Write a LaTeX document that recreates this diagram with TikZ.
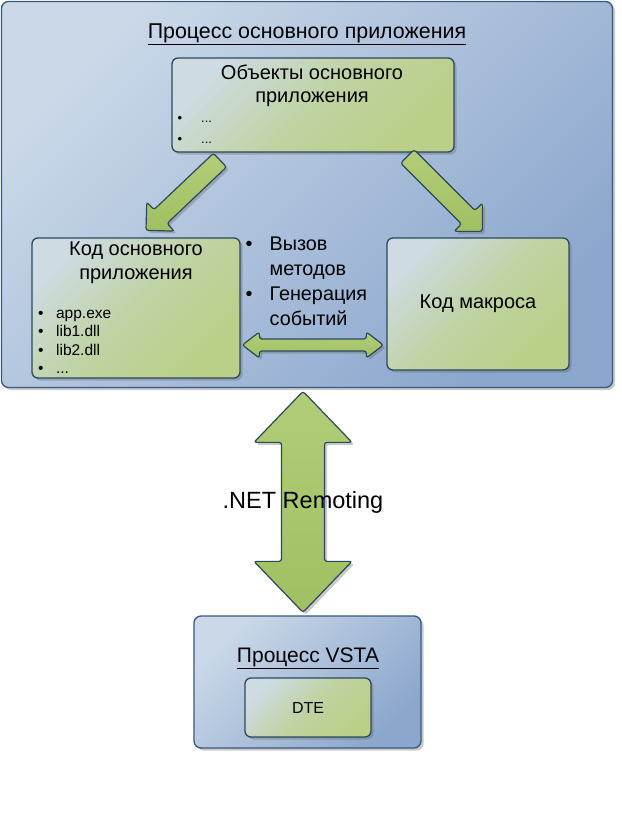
\documentclass[tikz,border=0pt]{standalone}
\usepackage{fontspec}
\setmainfont{Liberation Sans}
\usetikzlibrary{shadows,calc}
\definecolor{blueA}{RGB}{202,216,232}
\definecolor{blueB}{RGB}{140,167,205}
\definecolor{blueLine}{RGB}{58,88,128}
\definecolor{greenA}{RGB}{206,219,226}
\definecolor{greenB}{RGB}{186,207,136}
\definecolor{greenLine}{RGB}{44,72,92}
\definecolor{arrA}{RGB}{178,205,120}
\definecolor{arrB}{RGB}{160,192,98}
\tikzset{
  shad/.style={drop shadow={shadow xshift=2.5pt,shadow yshift=-2.5pt,opacity=0.35,fill=black!60}},
  procbox/.style={draw=blueLine, line width=1.3pt, rounded corners=7pt, shad,
    top color=blueA, bottom color=blueB, shading angle=45},
  codebox/.style={draw=greenLine, line width=1.3pt, rounded corners=6pt, shad,
    top color=greenA, bottom color=greenB, middle color=greenB!70!greenA, shading angle=45,
    font=\fontsize{20}{26}\selectfont, align=center},
  barrow/.style={draw=greenLine, line width=1.2pt, rounded corners=2.5pt, shad,
    top color=arrA, bottom color=arrB},
  txt/.style={inner sep=0pt, align=center},
}
% single block arrow: tip, angle, length, head length, head half width, shaft half width
\newcommand{\sblockarrow}[6]{%
  \begin{scope}[shift={(#1)}, rotate=#2]
    \draw[barrow] (0,0) -- (-#4,#5) -- (-#4,#6) -- (-#3,#6) -- (-#3,-#6) -- (-#4,-#6) -- (-#4,-#5) -- cycle;
  \end{scope}}
% double block arrow: one tip, angle, length, head length, head half width, shaft half width
\newcommand{\dblockarrow}[6]{%
  \begin{scope}[shift={(#1)}, rotate=#2]
    \draw[barrow] (0,0) -- (-#4,#5) -- (-#4,#6) -- (-#3+#4,#6) -- (-#3+#4,#5) -- (-#3,0)
      -- (-#3+#4,-#5) -- (-#3+#4,-#6) -- (-#4,-#6) -- (-#4,-#5) -- cycle;
  \end{scope}}
\begin{document}
\begin{tikzpicture}[x=1pt,y=-1pt]
\useasboundingbox (0,0) rectangle (621,832);
\fill[white] (0,0) rectangle (621,832);

% main process box
\node[procbox, minimum width=611pt, minimum height=386pt] (main) at (307,194.5) {};
\node[txt, font=\fontsize{21.4}{25}\selectfont] (maintitle) at (307,34) {\underline{Процесс основного приложения}};

% host objects
\node[codebox, minimum width=282pt, minimum height=94pt] (objs) at (313,105) {};
\node[txt, font=\fontsize{20}{23}\selectfont] (objtitle) at (312,86) {Объекты основного\\приложения};
\node[txt, anchor=west, font=\fontsize{13}{21}\selectfont] (objlist) at (177.5,128.5)
  {\begin{tabular}{@{}l@{\hspace{19pt}}l@{}}\textbullet & ...\\ \textbullet & ...\end{tabular}};

% host code
\node[codebox, minimum width=208pt, minimum height=140pt] (host) at (136,308) {};
\node[txt, font=\fontsize{20}{24}\selectfont] (hosttitle) at (136,263) {Код основного\\приложения};
\node[txt, anchor=west, font=\fontsize{15.5}{18.5}\selectfont] (hostlist) at (38,342.5)
  {\begin{tabular}{@{}l@{\hspace{12.5pt}}l@{}}\textbullet & app.exe\\ \textbullet & lib1.dll\\ \textbullet & lib2.dll\\ \textbullet & ...\end{tabular}};

% macro code
\node[codebox, minimum width=182pt, minimum height=132pt] (macro) at (478,304) {Код макроса};

% middle list
\node[txt, anchor=west, font=\fontsize{19.8}{25}\selectfont] (calls) at (245.5,282.5)
  {\begin{tabular}{@{}l@{\hspace{17pt}}l@{}}\textbullet & Вызов\\ & методов\\ \textbullet & Генерация\\ & событий\end{tabular}};

% VSTA process
\node[procbox, minimum width=227pt, minimum height=132pt] (vsta) at (307.5,682) {};
\node[txt, font=\fontsize{21}{25}\selectfont] (vstatitle) at (308,658) {\underline{Процесс VSTA}};
\node[codebox, minimum width=126pt, minimum height=59pt, font=\fontsize{16}{19}\selectfont] (dte) at (308,707.5) {DTE};

% arrows
\path (host.north) ++(10,-7) coordinate (t1);
\sblockarrow{t1}{223.5}{102}{20}{20}{9.5}
\path (macro.north west) ++(96,-6) coordinate (t2);
\sblockarrow{t2}{-45}{106}{20}{20}{9.5}
\path (macro.west |- 0,345) ++(-3,0) coordinate (t3);
\dblockarrow{t3}{0}{141}{17}{13}{6}
\path (vsta.north) ++(-4.5,-3) coordinate (t4);
\dblockarrow{t4}{-90}{221}{51}{49}{21.5}

\node[txt, font=\fontsize{23.5}{27}\selectfont] (remoting) at (303,502) {.NET Remoting};
\end{tikzpicture}
\end{document}
